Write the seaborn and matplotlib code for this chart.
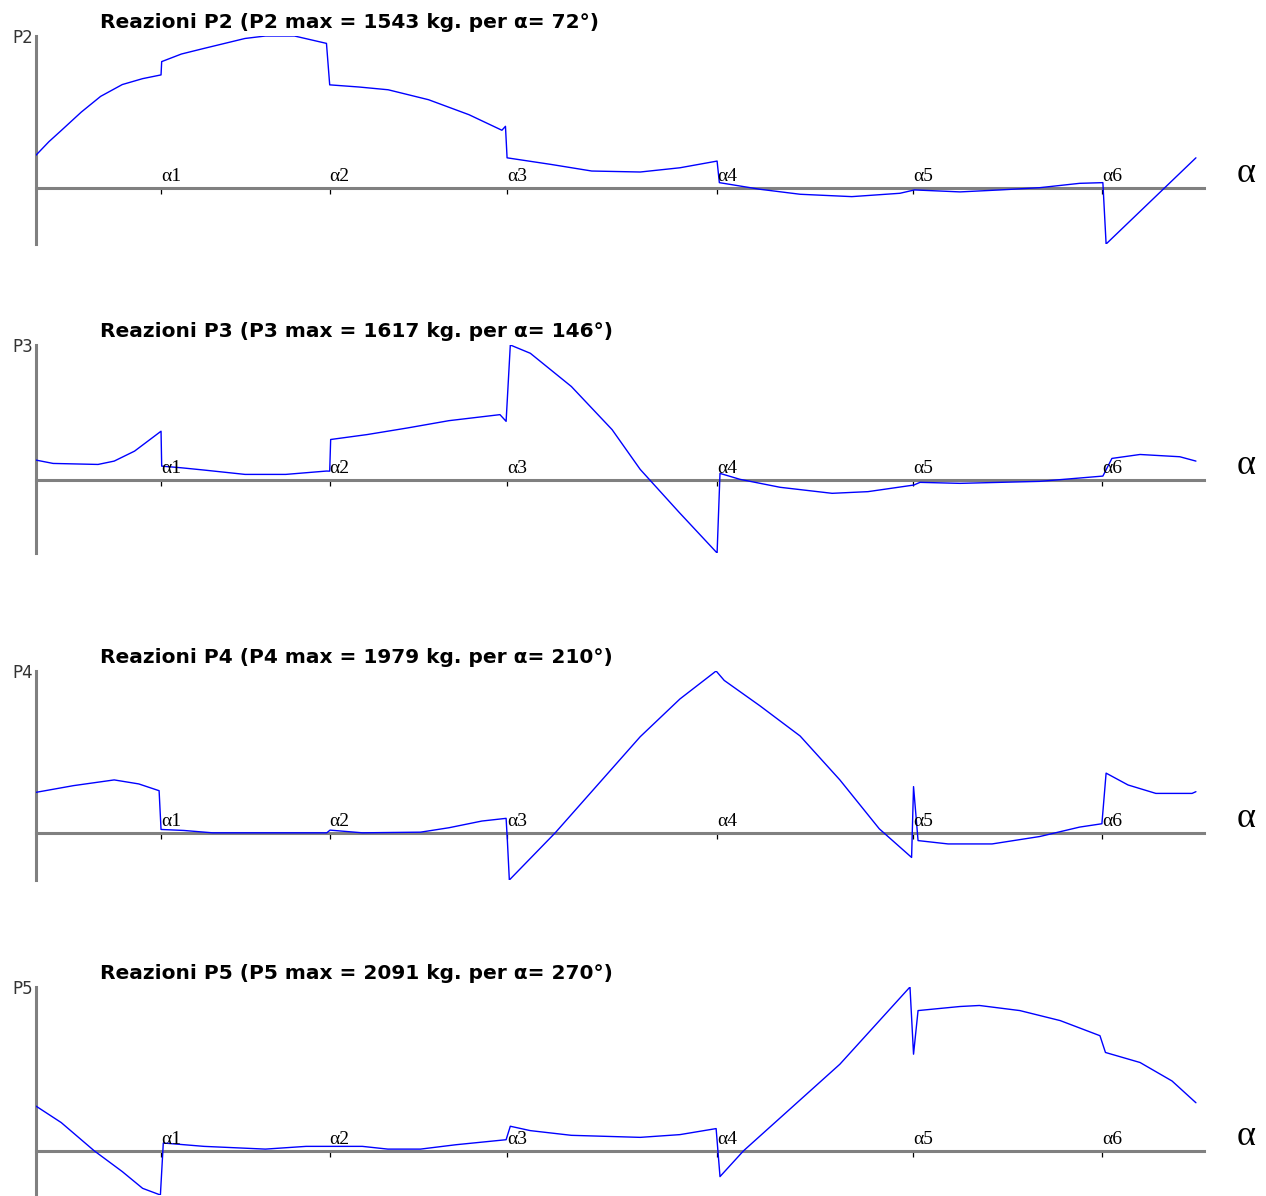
import numpy as np
import seaborn as sns
import matplotlib.pyplot as plt

# posizioni angolari alpha1..alpha6 (gradi)
alfa = [38.8, 90.9, 145.7, 210.7, 271.5, 330.0]
alfa_lab = ["α1", "α2", "α3", "α4", "α5", "α6"]

nomi = ["P2", "P3", "P4", "P5"]
max_kg = [1543, 1617, 1979, 2091]
max_gradi = [72, 146, 210, 270]

# reazioni (gradi, kg)
ang_p2 = [0, 4, 7.7, 14, 20, 26.7, 33, 38.7, 38.9, 45, 52, 64.7, 71, 80, 89.9, 90.9,
          100, 109, 121.5, 134, 144.2, 145.3, 145.8, 159.4, 172, 187, 199.3, 210.8,
          211.5, 224, 236.5, 252.5, 267.4, 271.9, 286, 298.4, 310.7, 323, 330.2,
          331.2, 359]
val_p2 = [333, 470, 580, 770, 930, 1050, 1110, 1148, 1283, 1360, 1417, 1518, 1543,
          1543, 1468, 1047, 1025, 997, 896, 744, 586, 626, 306, 239, 172, 162, 205,
          273, 54, -13, -64, -88, -54, -20, -40, -20, 3, 47, 54, -569, 306]

ang_p3 = [0, 5.3, 19.2, 24.2, 30.5, 38.7, 38.9, 45, 52, 64.7, 77.3, 89.9, 90.9,
          91.2, 102.5, 115, 127.8, 143.6, 145.5, 146.8, 153, 165.7, 178.3, 187, 199,
          210.8, 211.7, 217.9, 230.3, 246.4, 257.5, 271.7, 273.6, 286, 310.7, 330.2,
          333, 341.7, 354, 359]
val_p3 = [242, 202, 190, 230, 349, 587, 170, 150, 123, 71, 71, 111, 110, 488, 547,
          626, 713, 785, 705, 1617, 1518, 1121, 606, 131, -380, -868, 83, 12, -83,
          -155, -135, -56, -24, -36, -12, 51, 262, 309, 282, 230]

ang_p4 = [0, 11.6, 24.2, 31.8, 38.1, 38.7, 45.7, 54.6, 90, 91, 101, 119, 127.8, 138,
          145.5, 145.9, 146.5, 160.7, 187, 199.3, 210.5, 213, 224, 236.5, 248.8, 261,
          271, 271.6, 273, 282.3, 295.9, 310.7, 323, 329.9, 331.2, 338, 346.6, 357.8,
          359]
val_p4 = [495, 577, 647, 598, 515, 41, 29, 0, 0, 33, 0, 8, 62, 144, 177, -100, -577,
          0, 1175, 1637, 1979, 1864, 1555, 1184, 647, 49, -301, 565, -95, -136, -136,
          -45, 70, 111, 730, 585, 482, 482, 503]

ang_p5 = [0, 7.8, 18, 26.7, 33, 38.5, 39.4, 52, 71, 83.6, 101, 108.9, 119, 130,
          145.5, 146.8, 153, 165.7, 187, 199.3, 210.5, 211.7, 219, 248.8, 270.5,
          271.6, 273, 286, 292, 304.5, 317, 329.3, 331, 341.7, 351.6, 359]
val_p5 = [570, 360, 0, -266, -480, -565, 99, 56, 21, 56, 56, 21, 21, 77, 141, 313,
          257, 197, 171, 206, 283, -330, 0, 1105, 2091, 1233, 1790, 1842, 1855, 1790,
          1662, 1469, 1255, 1127, 891, 613]

angoli = [ang_p2, ang_p3, ang_p4, ang_p5]
valori = [val_p2, val_p3, val_p4, val_p5]

sns.set_style("white")
plt.rcParams["font.family"] = ["DejaVu Sans"]

W, H = 1266, 1196
fig = plt.figure(figsize=(W / 100, H / 100), dpi=100)

# bordi verticali (pixel) dei quattro pannelli
alto = [36, 345, 671, 987]
basso = [244, 553, 880, 1195]
grigio = "#808080"

for i in range(4):
    ax = fig.add_axes([36 / W, 1 - basso[i] / H, (1204 - 36) / W, (basso[i] - alto[i]) / H])
    ax.patch.set_alpha(0)
    sns.lineplot(x=angoli[i], y=valori[i], ax=ax, color="#0000ff", lw=1.0,
                 estimator=None, sort=False, zorder=3)
    ax.set_xlim(0, 361.5)
    ax.set_ylim(min(valori[i]), max(valori[i]))
    ax.set_xlabel("")
    ax.set_ylabel("")

    # assi grigi che si incrociano nello zero
    ax.spines["top"].set_visible(False)
    ax.spines["right"].set_visible(False)
    ax.spines["bottom"].set_position(("data", 0))
    for s in ["left", "bottom"]:
        ax.spines[s].set_color(grigio)
        ax.spines[s].set_linewidth(2.2)
        ax.spines[s].set_zorder(2)

    ax.set_yticks([])
    ax.set_xticks(alfa)
    ax.set_xticklabels([])
    ax.tick_params(axis="x", bottom=True, length=4, width=0.9, color="black",
                   direction="out")

    for a, lab in zip(alfa, alfa_lab):
        ax.annotate(lab, xy=(a, 0), xytext=(0, 5), textcoords="offset points",
                    ha="left", va="baseline", fontsize=14, family="Liberation Serif",
                    color="black")

    ax.annotate("α", xy=(1, 0), xycoords=ax.get_yaxis_transform(), xytext=(30, 4.5),
                textcoords="offset points", ha="center", va="baseline", fontsize=26,
                family="Liberation Serif", color="black")

    titolo = f"Reazioni {nomi[i]} ({nomi[i]} max = {max_kg[i]} kg. per α= {max_gradi[i]}°)"
    ax.annotate(titolo, xy=(0, 1), xycoords="axes fraction", xytext=(46, 10),
                textcoords="offset points", ha="left", va="center", fontsize=14.5,
                fontweight="bold", color="black")

    ax.annotate(nomi[i], xy=(0, 1), xycoords="axes fraction", xytext=(-2, -1.5),
                textcoords="offset points", ha="right", va="center", fontsize=12,
                color="#333333")

fig.savefig("out.png", dpi=100)
